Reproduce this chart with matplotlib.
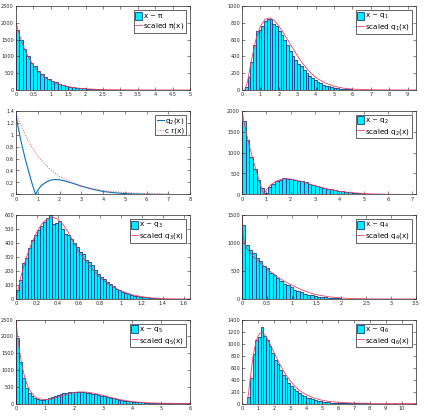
import numpy as np
import matplotlib
matplotlib.use("Agg")
import matplotlib.pyplot as plt
from matplotlib.patches import Patch
from matplotlib.lines import Line2D

# ---------------- data ----------------
# Panel 1: x ~ pi
pi_bw = 0.1
pi_start = 0.0
pi_counts = [1790, 1490, 1210, 1000, 810, 700, 555, 470, 380, 320, 275, 225, 185, 150, 125,
             100, 85, 70, 55, 45, 38, 30, 25, 20, 16, 13, 10, 8, 7, 5, 4, 3, 3, 2, 2, 1, 1, 1, 1,
             0, 0, 0, 0, 0, 0, 0, 0, 0, 0, 0]
pi_curve_x = [0, 0.1, 0.2, 0.3, 0.4, 0.5, 0.6, 0.7, 0.8, 0.9, 1.0, 1.2, 1.4, 1.6, 1.8, 2.0, 2.3, 2.6, 3.0, 3.5, 4.0, 5.0]
pi_curve_y = [2000, 1640, 1340, 1100, 900, 740, 600, 495, 405, 330, 270, 180, 122, 82, 55, 37, 20, 11, 5, 2, 0.7, 0]

# Panel 2: x ~ q1
q1_bw = 0.15
q1_start = 0.0
q1_counts = [0, 40, 150, 330, 530, 700, 710, 760, 820, 850, 840, 790, 760, 700, 650, 590, 530, 460,
             410, 360, 310, 280, 240, 200, 165, 140, 115, 95, 80, 65, 52, 42, 34, 27, 21, 16, 13, 10,
             8, 6, 5, 4, 3, 3, 2, 2, 1, 1, 1, 1, 1, 0, 0, 0, 0, 0, 0, 0, 0, 0, 0, 0, 0]
q1_curve_x = [0.15, 0.3, 0.5, 0.75, 1.0, 1.25, 1.5, 1.75, 2.0, 2.25, 2.5, 2.75, 3.0, 3.25, 3.5, 3.75,
              4.0, 4.5, 5.0, 5.5, 6.0, 7.0, 8.0, 9.5]
q1_curve_y = [0, 100, 340, 600, 760, 840, 860, 830, 760, 680, 590, 500, 410, 330, 260, 200, 150, 85,
              45, 22, 11, 3, 1, 0]

# Panel 3: q2(x) and c r(x)
q2_x = [0, 0.1, 0.2, 0.3, 0.4, 0.5, 0.6, 0.7, 0.8, 0.9, 1.0, 1.1, 1.2, 1.4, 1.6, 1.8, 2.0, 2.2, 2.5,
        3.0, 3.5, 4.0, 4.5, 5.0, 5.5, 6.0, 6.5, 7.0]
q2_y = [1.33, 1.12, 0.94, 0.78, 0.63, 0.49, 0.36, 0.23, 0.11, 0.0, 0.07, 0.12, 0.16, 0.21, 0.24, 0.25,
        0.245, 0.23, 0.20, 0.14, 0.09, 0.05, 0.03, 0.015, 0.008, 0.004, 0.002, 0.001]
cr_x = [0, 0.5, 1.0, 1.5, 2.0, 2.5, 3.0, 3.5, 4.0, 4.5, 5.0, 5.5, 6.0, 6.5, 7.0]
cr_y = [1.35, 0.93, 0.64, 0.44, 0.30, 0.21, 0.14, 0.10, 0.068, 0.047, 0.032, 0.022, 0.015, 0.01, 0.007]

# Panel 4: x ~ q2
q2h_bw = 0.15
q2h_start = 0.0
q2h_counts = [1760, 1300, 890, 600, 350, 150, 30, 170, 250, 320, 350, 385, 375, 380, 350, 330, 310,
              290, 260, 230, 200, 180, 160, 140, 120, 100, 85, 72, 60, 50, 40, 33, 26, 20, 16, 12, 9,
              7, 5, 4, 3, 2, 2, 1, 1, 1, 0, 0]
q2h_curve_x = q2_x
q2h_curve_y = [2000, 1680, 1410, 1170, 945, 735, 540, 345, 165, 0, 105, 180, 240, 315, 360, 375, 368,
               345, 300, 210, 135, 75, 45, 22, 12, 6, 3, 1.5]

# Panel 5: x ~ q3
q3_bw = 0.0286
q3_start = 0.0
q3_counts = [62, 139, 254, 290, 361, 419, 457, 490, 521, 550, 581, 600, 533, 545, 557, 497, 466, 457,
             430, 400, 370, 335, 320, 280, 265, 240, 205, 180, 160, 140, 120, 105, 90, 75, 62, 50,
             42, 36, 30, 25, 21, 17, 14, 11, 9, 7, 5, 4, 3, 2, 2, 1, 1, 1, 0, 0, 0, 0]
q3_curve_x = [0, 0.05, 0.1, 0.15, 0.2, 0.25, 0.3, 0.35, 0.4, 0.45, 0.5, 0.55, 0.6, 0.65, 0.7, 0.75,
              0.8, 0.85, 0.9, 0.95, 1.0, 1.1, 1.2, 1.3, 1.4, 1.5, 1.66]
q3_curve_y = [0, 170, 300, 400, 480, 540, 575, 585, 570, 530, 475, 405, 335, 285, 240, 195, 155, 125,
              100, 78, 58, 32, 16, 7, 3, 1, 0.2]

# Panel 6: x ~ q4
q4_bw = 0.0685
q4_start = 0.0
q4_counts = [1315, 962, 867, 813, 735, 675, 586, 556, 466, 436, 377, 329, 269, 245, 209, 155, 149, 120,
             96, 78, 66, 54, 42, 35, 28, 22, 17, 13, 10, 8, 6, 5, 4, 3, 2, 2, 1, 1, 1, 0, 0, 0, 0, 0,
             0, 0, 0, 0, 0, 0, 0]
q4_curve_x = [0, 0.02, 0.05, 0.1, 0.2, 0.3, 0.4, 0.5, 0.6, 0.7, 0.8, 0.9, 1.0, 1.1, 1.2, 1.3, 1.4, 1.5,
              1.6, 1.8, 2.0, 2.2, 2.5, 3.0, 3.5]
q4_curve_y = [1500, 1150, 1000, 900, 790, 700, 620, 540, 470, 400, 345, 295, 250, 205, 165, 130, 100,
              78, 60, 34, 18, 9, 3, 0.5, 0.1]

# Panel 7: x ~ q5
q5_bw = 0.1
q5_start = 0.0
q5_counts = [1950, 1230, 770, 450, 320, 230, 150, 120, 110, 110, 130, 160, 180, 220, 250, 280, 300, 320,
             330, 340, 345, 345, 340, 330, 320, 305, 290, 270, 250, 230, 210, 190, 170, 150, 130, 115,
             100, 87, 75, 64, 55, 47, 40, 33, 28, 23, 19, 16, 13, 10, 8, 7, 5, 4, 3, 3, 2, 2, 1, 1]
q5_curve_x = [0, 0.05, 0.1, 0.2, 0.3, 0.4, 0.5, 0.6, 0.7, 0.8, 0.9, 1.0, 1.1, 1.2, 1.4, 1.6, 1.8, 2.0,
              2.2, 2.4, 2.6, 2.8, 3.0, 3.2, 3.4, 3.6, 3.8, 4.0, 4.3, 4.6, 5.0, 5.5, 6.0]
q5_curve_y = [2500, 2050, 1700, 1150, 780, 530, 360, 250, 180, 140, 120, 115, 120, 135, 180, 240, 290,
              330, 345, 340, 320, 285, 240, 195, 155, 115, 85, 60, 35, 20, 9, 3, 1]

# Panel 8: x ~ q6
q6_bw = 0.167
q6_start = 0.33
q6_counts = [106, 420, 829, 1064, 1110, 1270, 1120, 1060, 960, 850, 730, 660, 560, 480, 420, 340, 300,
             250, 210, 180, 150, 120, 100, 85, 70, 55, 45, 37, 30, 24, 19, 15, 12, 10, 8, 6, 5, 4, 3,
             3, 2, 2, 1, 1, 1, 1, 0, 0, 0, 0, 0, 0, 0, 0, 0, 0, 0, 0, 0, 0, 0, 0]
q6_curve_x = [0.33, 0.5, 0.7, 0.9, 1.1, 1.3, 1.5, 1.7, 1.9, 2.1, 2.3, 2.5, 2.8, 3.1, 3.4, 3.7, 4.0,
              4.5, 5.0, 5.5, 6.0, 7.0, 8.0, 9.0, 10.9]
q6_curve_y = [0, 380, 800, 1060, 1170, 1180, 1120, 1020, 910, 800, 690, 590, 460, 350, 265, 200, 150,
              90, 55, 33, 20, 7, 2.5, 1, 0]

# ---------------- style ----------------
W, H = 428, 419
FACE = "#00EEFF"
EDGE = "#1F3A8A"
RED = "#E8415F"
AXC = "#262626"
TICK_FS = 3.6
LEG_FS = 5.2

fig = plt.figure(figsize=(W / 100, H / 100), dpi=100)
fig.patch.set_facecolor("white")

cols = [16, 242]
rows = [6, 110.5, 215, 319.5]
AW, AH = 174, 84

LEG_KW = dict(loc="upper right", fontsize=LEG_FS, fancybox=False, framealpha=1, edgecolor=AXC,
              borderpad=0.2, labelspacing=0.15, handlelength=0.95, handletextpad=0.15,
              borderaxespad=0.6)


def make_ax(r, c):
    x0 = cols[c]
    y0 = rows[r]
    ax = fig.add_axes([x0 / W, 1 - (y0 + AH) / H, AW / W, AH / H])
    for s in ax.spines.values():
        s.set_color(AXC)
        s.set_linewidth(0.5)
    ax.tick_params(direction="in", length=2, width=0.4, colors=AXC, labelsize=TICK_FS,
                   top=True, right=True, pad=1.5)
    return ax


def style_ticks(ax, xlim, xticks, xlabels, ylim, yticks, ylabels):
    ax.set_xlim(*xlim)
    ax.set_ylim(*ylim)
    ax.set_xticks(xticks)
    ax.set_xticklabels(xlabels)
    ax.set_yticks(yticks)
    ax.set_yticklabels(ylabels)


def hist_panel(ax, start, bw, counts, cx, cy, sub):
    edges = start + bw * np.arange(len(counts))
    ax.bar(edges, counts, width=bw, align="edge", color=FACE, edgecolor=EDGE, linewidth=0.6)
    ax.plot(cx, cy, color=RED, linewidth=0.6)
    handles = [Patch(facecolor=FACE, edgecolor=EDGE, linewidth=0.6),
               Line2D([], [], color=RED, linewidth=0.6)]
    labels = [r"x ~ $\mathregular{" + sub + "}$", r"scaled $\mathregular{" + sub + "(x)}$"]
    leg = ax.legend(handles, labels, handleheight=1.3, **LEG_KW)
    leg.get_frame().set_linewidth(0.5)


def fmt(vals):
    out = []
    for v in vals:
        if abs(v - round(v)) < 1e-9:
            out.append(str(int(round(v))))
        else:
            out.append(("%g" % v))
    return out


# Panel 1
ax = make_ax(0, 0)
hist_panel(ax, pi_start, pi_bw, pi_counts, pi_curve_x, pi_curve_y, r"\pi")
xt = np.arange(0, 5.01, 0.5)
yt = np.arange(0, 2501, 500)
style_ticks(ax, (0, 5), xt, fmt(xt), (0, 2500), yt, fmt(yt))

# Panel 2
ax = make_ax(0, 1)
hist_panel(ax, q1_start, q1_bw, q1_counts, q1_curve_x, q1_curve_y, r"q_1")
xt = np.arange(0, 10, 1)
yt = np.arange(0, 1001, 200)
style_ticks(ax, (0, 9.45), xt, fmt(xt), (0, 1000), yt, fmt(yt))

# Panel 3
ax = make_ax(1, 0)
ax.plot(q2_x, q2_y, color="#0072BD", linewidth=0.8)
ax.plot(cr_x, cr_y, color="#E0505A", linewidth=0.7, linestyle=":")
leg = ax.legend([r"$\mathregular{q_2(x)}$", "c r(x)"], **LEG_KW)
leg.get_frame().set_linewidth(0.5)
xt = np.arange(0, 9, 1)
yt = np.arange(0, 1.41, 0.2)
style_ticks(ax, (0, 8), xt, fmt(xt), (0, 1.4), yt, fmt(np.round(yt, 1)))

# Panel 4
ax = make_ax(1, 1)
hist_panel(ax, q2h_start, q2h_bw, q2h_counts, q2h_curve_x, q2h_curve_y, r"q_2")
xt = np.arange(0, 8, 1)
yt = np.arange(0, 2001, 500)
style_ticks(ax, (0, 7.15), xt, fmt(xt), (0, 2000), yt, fmt(yt))

# Panel 5
ax = make_ax(2, 0)
hist_panel(ax, q3_start, q3_bw, q3_counts, q3_curve_x, q3_curve_y, r"q_3")
xt = np.arange(0, 1.61, 0.2)
yt = np.arange(0, 601, 100)
style_ticks(ax, (0, 1.66), xt, fmt(np.round(xt, 1)), (0, 600), yt, fmt(yt))

# Panel 6
ax = make_ax(2, 1)
hist_panel(ax, q4_start, q4_bw, q4_counts, q4_curve_x, q4_curve_y, r"q_4")
xt = np.arange(0, 3.51, 0.5)
yt = np.arange(0, 1501, 500)
style_ticks(ax, (0, 3.5), xt, fmt(xt), (0, 1500), yt, fmt(yt))

# Panel 7
ax = make_ax(3, 0)
hist_panel(ax, q5_start, q5_bw, q5_counts, q5_curve_x, q5_curve_y, r"q_5")
xt = np.arange(0, 7, 1)
yt = np.arange(0, 2501, 500)
style_ticks(ax, (0, 6), xt, fmt(xt), (0, 2500), yt, fmt(yt))

# Panel 8
ax = make_ax(3, 1)
hist_panel(ax, q6_start, q6_bw, q6_counts, q6_curve_x, q6_curve_y, r"q_6")
xt = np.arange(0, 11, 1)
yt = np.arange(0, 1401, 200)
style_ticks(ax, (0, 10.9), xt, fmt(xt), (0, 1400), yt, fmt(yt))

fig.savefig("out.png", dpi=100, facecolor="white")
